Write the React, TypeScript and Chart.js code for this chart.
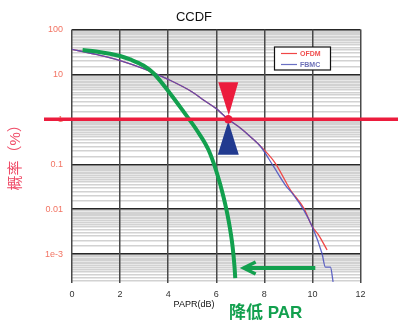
import { useEffect, useRef } from "react";
import { Chart, registerables } from "chart.js";

Chart.register(...registerables);

// CCDF curves (probability in %) against PAPR in dB
const ofdmPapr = [0, 1, 2, 3, 4, 5, 5.5, 6, 6.5, 7, 7.42, 7.85, 8.46, 9.08, 9.64, 9.99, 10.26, 10.61];
const ofdmCcdf = [36.2, 27.8, 20.4, 13.3, 7.75, 4.07, 2.63, 1.73, 1.0, 0.64, 0.41, 0.25, 0.105, 0.027, 0.0105, 0.0041, 0.00265, 0.00123];

const fbmcPapr = [0, 1, 2, 3, 4, 5, 5.5, 6, 6.5, 7, 7.42, 7.85, 8.39, 8.88, 9.22, 9.64, 9.99, 10.4, 10.54, 10.75, 10.86];
const fbmcCcdf = [36.2, 27.8, 20.4, 13.3, 7.75, 4.07, 2.63, 1.73, 1.0, 0.64, 0.41, 0.245, 0.088, 0.034, 0.0206, 0.0095, 0.0041, 0.00103, 0.00051, 0.00051, 0.00024];

// Curve after PAPR reduction
const reducedPapr = [0.44, 1, 2, 2.42, 2.97, 3.39, 4.08, 4.64, 5.2, 5.68, 6.03, 6.3, 6.51, 6.68, 6.76, 6.79];
const reducedCcdf = [34.9, 32.4, 25.7, 21.5, 15.8, 10.6, 3.76, 1.48, 0.564, 0.207, 0.063, 0.0189, 0.0057, 0.00146, 0.00052, 0.00029];

const seriesNames = ["OFDM", "FBMC"];

const xTickValues = [0, 2, 4, 6, 8, 10, 12];
const yDecadeValues = [1e-3, 1e-2, 1e-1, 1, 10, 100];
const yDecadeLabels = ["1e-3", "0.01", "0.1", "1", "10", "100"];
const yMinorMantissas = [1.5, 2, 2.5, 3, 3.5, 4, 4.5, 5, 5.5, 6, 6.5, 7, 7.5, 8, 8.5, 9, 9.5];
const yMin = 2.3e-4;
const yMax = 100;

const titleText = "CCDF";
const xTitleText = "PAPR(dB)";
const yTitleText = "概率（%）";
const noteText = "降低 PAR";

// Crossing point of the 1% threshold, and the PAPR-gain arrow
const markerPapr = 6.5;
const markerProb = 1;
const arrowFromPapr = 10.12;
const arrowToPapr = 7.14;
const arrowProb = 4.9e-4;

const RED = "#ec1c3d";
const NAVY = "#213a8f";
const GREEN = "#12a04e";
const OFDM_COLOR = "#f04646";
const FBMC_COLOR = "rgba(72, 78, 190, 0.85)";
const SANS = "'Liberation Sans', Arial, sans-serif";
const CJK = "'Liberation Sans', 'Noto Sans CJK SC', sans-serif";

const isDecade = (v: number) => Math.abs(Math.log10(v) - Math.round(Math.log10(v))) < 1e-9;

const toPoints = (xs: number[], ys: number[]) => xs.map((x, i) => ({ x, y: ys[i] }));

const overlayPlugin = {
  id: "ccdfOverlay",
  afterDatasetsDraw(chart: any) {
    const { ctx, scales } = chart;
    const xs = scales.x;
    const ys = scales.y;
    ctx.save();

    // 1% threshold line across the whole figure
    const cy = ys.getPixelForValue(markerProb);
    const cx = xs.getPixelForValue(markerPapr);
    ctx.strokeStyle = RED;
    ctx.lineWidth = 3.5;
    ctx.beginPath();
    ctx.moveTo(44, cy);
    ctx.lineTo(chart.width, cy);
    ctx.stroke();

    // downward red triangle and upward navy triangle around the crossing
    ctx.fillStyle = RED;
    ctx.beginPath();
    ctx.moveTo(cx - 10, cy - 37);
    ctx.lineTo(cx + 10, cy - 37);
    ctx.lineTo(cx + 0.5, cy - 4);
    ctx.closePath();
    ctx.fill();

    ctx.fillStyle = NAVY;
    ctx.beginPath();
    ctx.moveTo(cx, cy + 2);
    ctx.lineTo(cx + 10.5, cy + 35.5);
    ctx.lineTo(cx - 10.5, cy + 35.5);
    ctx.closePath();
    ctx.fill();

    ctx.fillStyle = RED;
    ctx.beginPath();
    ctx.arc(cx, cy, 4.2, 0, Math.PI * 2);
    ctx.fill();

    // green arrow pointing toward lower PAPR
    const ay = ys.getPixelForValue(arrowProb);
    const ax0 = xs.getPixelForValue(arrowFromPapr);
    const ax1 = xs.getPixelForValue(arrowToPapr);
    ctx.strokeStyle = GREEN;
    ctx.lineWidth = 4;
    ctx.lineCap = "butt";
    ctx.beginPath();
    ctx.moveTo(ax0, ay);
    ctx.lineTo(ax1 + 1, ay);
    ctx.stroke();
    ctx.lineWidth = 3.5;
    ctx.lineJoin = "miter";
    ctx.beginPath();
    ctx.moveTo(ax1 + 12, ay - 6);
    ctx.lineTo(ax1, ay);
    ctx.lineTo(ax1 + 12, ay + 6);
    ctx.stroke();

    ctx.restore();
  },
  afterDraw(chart: any) {
    const { ctx } = chart;
    ctx.save();

    // chart title
    ctx.fillStyle = "#111";
    ctx.font = `13px ${SANS}`;
    ctx.textAlign = "center";
    ctx.textBaseline = "middle";
    ctx.fillText(titleText, 194, 17);

    // x-axis title
    ctx.font = `9px ${SANS}`;
    ctx.fillText(xTitleText, 194, 305);

    // y-axis title
    ctx.save();
    ctx.translate(15.5, 190.5);
    ctx.rotate(-Math.PI / 2);
    ctx.fillStyle = "#ef4a66";
    ctx.font = `15px ${CJK}`;
    ctx.textAlign = "left";
    ctx.textBaseline = "middle";
    ctx.fillText(yTitleText, 0, 0);
    ctx.restore();

    // note under the arrow
    ctx.fillStyle = GREEN;
    ctx.font = `bold 17px ${CJK}`;
    ctx.textAlign = "left";
    ctx.textBaseline = "middle";
    ctx.fillText(noteText, 229, 313);

    // legend box
    const lx = 274.5;
    const ly = 47;
    const lw = 56;
    const lh = 23;
    ctx.fillStyle = "#fff";
    ctx.fillRect(lx, ly, lw, lh);
    ctx.strokeStyle = "#111";
    ctx.lineWidth = 1.2;
    ctx.strokeRect(lx, ly, lw, lh);
    const entries = [
      { name: seriesNames[0], line: OFDM_COLOR, text: "#f05050" },
      { name: seriesNames[1], line: "#6a70c4", text: "#6e72b8" },
    ];
    ctx.font = `bold 7px ${SANS}`;
    ctx.textBaseline = "middle";
    entries.forEach((e, i) => {
      const yy = ly + 6.5 + i * 11;
      ctx.strokeStyle = e.line;
      ctx.lineWidth = 1.2;
      ctx.beginPath();
      ctx.moveTo(lx + 6.5, yy);
      ctx.lineTo(lx + 22.5, yy);
      ctx.stroke();
      ctx.fillStyle = e.text;
      ctx.fillText(e.name, lx + 25.5, yy + 0.5);
    });

    ctx.restore();
  },
};

export default function App() {
  const canvasRef = useRef<HTMLCanvasElement | null>(null);

  useEffect(() => {
    const canvas = canvasRef.current;
    if (!canvas) return;

    const chart = new Chart(canvas, {
      type: "line",
      data: {
        datasets: [
          {
            label: seriesNames[0],
            data: toPoints(ofdmPapr, ofdmCcdf),
            borderColor: OFDM_COLOR,
            borderWidth: 1.3,
            pointRadius: 0,
            cubicInterpolationMode: "monotone",
            order: 2,
          },
          {
            label: seriesNames[1],
            data: toPoints(fbmcPapr, fbmcCcdf),
            borderColor: FBMC_COLOR,
            borderWidth: 1.3,
            pointRadius: 0,
            cubicInterpolationMode: "monotone",
            order: 1,
          },
          {
            label: "reduced",
            data: toPoints(reducedPapr, reducedCcdf),
            borderColor: GREEN,
            borderWidth: 4,
            pointRadius: 0,
            cubicInterpolationMode: "monotone",
            order: 0,
          },
        ],
      },
      options: {
        responsive: false,
        animation: false,
        devicePixelRatio: 1,
        layout: { padding: { left: 0, top: 29.5, right: 37.5, bottom: 0 } },
        plugins: {
          legend: { display: false },
          title: { display: false },
          tooltip: { enabled: false },
        },
        scales: {
          x: {
            type: "linear",
            min: 0,
            max: 12,
            afterFit: (scale: any) => {
              scale.height = 39.3;
            },
            afterBuildTicks: (scale: any) => {
              scale.ticks = xTickValues.map((value) => ({ value }));
            },
            border: { display: false },
            grid: {
              color: "#4a4a4a",
              lineWidth: 1.5,
              drawTicks: false,
              z: -1,
            },
            ticks: {
              padding: 6,
              color: "#333",
              font: { family: SANS, size: 9 },
              autoSkip: false,
              maxRotation: 0,
            },
          },
          y: {
            type: "logarithmic",
            min: yMin,
            max: yMax,
            afterFit: (scale: any) => {
              scale.width = 72;
            },
            afterBuildTicks: (scale: any) => {
              const ticks: { value: number }[] = [];
              for (let e = -4; e <= 2; e++) {
                const base = Math.pow(10, e);
                if (base >= yMin && base <= yMax) ticks.push({ value: base });
                yMinorMantissas.forEach((m) => {
                  const v = m * base;
                  if (v >= yMin && v <= yMax) ticks.push({ value: v });
                });
              }
              ticks.sort((a, b) => a.value - b.value);
              scale.ticks = ticks;
            },
            border: { display: false },
            grid: {
              color: (ctx: any) => (ctx.tick && isDecade(ctx.tick.value) ? "#262626" : "#d2d2d2"),
              lineWidth: (ctx: any) => (ctx.tick && isDecade(ctx.tick.value) ? 1.4 : 1.5),
              drawTicks: false,
              z: -2,
            },
            ticks: {
              padding: 9,
              color: "#f27463",
              font: { family: SANS, size: 9 },
              autoSkip: false,
              callback: (value: any) => {
                const v = Number(value);
                const idx = yDecadeValues.findIndex((d) => Math.abs(Math.log10(d) - Math.log10(v)) < 1e-9);
                return idx >= 0 ? yDecadeLabels[idx] : "";
              },
            },
          },
        },
      },
      plugins: [overlayPlugin],
    } as any);

    return () => chart.destroy();
  }, []);

  return (
    <canvas
      ref={canvasRef}
      width={398}
      height={322}
      style={{ position: "fixed", left: 0, top: 0, width: 398, height: 322, background: "#fff" }}
    />
  );
}
